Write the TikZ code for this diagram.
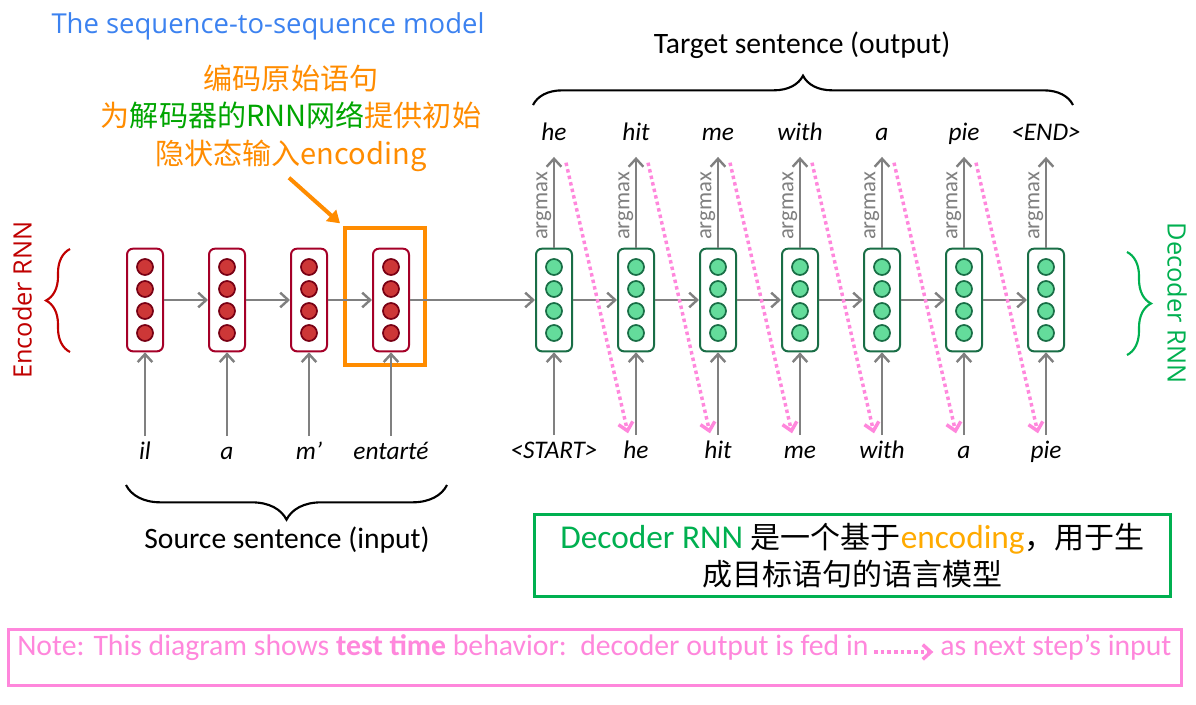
\documentclass[tikz,border=0pt]{standalone}
\usepackage{fontspec}
\setmainfont{Carlito}
\newfontfamily\cjk{Noto Sans CJK SC}
\newfontfamily\yahei{Open Sans}
\usetikzlibrary{arrows.meta, positioning, calc, decorations.pathreplacing}

\definecolor{encred}{RGB}{165,0,40}
\definecolor{encdot}{RGB}{205,55,55}
\definecolor{encdotline}{RGB}{120,0,20}
\definecolor{decgreen}{RGB}{25,110,70}
\definecolor{decdot}{RGB}{100,220,155}
\definecolor{rnngreen}{RGB}{0,176,80}
\definecolor{annogreen}{RGB}{0,165,0}
\definecolor{annoorange}{RGB}{255,140,0}
\definecolor{encorange}{RGB}{255,170,0}
\definecolor{titleblue}{RGB}{60,130,240}
\definecolor{notepink}{RGB}{255,135,220}
\definecolor{arrowgray}{RGB}{128,128,128}
\definecolor{bracered}{RGB}{192,0,0}

\begin{document}
\begin{tikzpicture}[
    x=0.75pt, y=-0.75pt,
    node distance=33pt,
    enccell/.style={draw=encred, line width=1.5pt, rounded corners=4.5pt, fill=white, minimum width=27pt, minimum height=77pt, inner sep=0pt},
    deccell/.style={enccell, draw=decgreen},
    encdotst/.style={circle, draw=encdotline, fill=encdot, line width=1.3pt, minimum size=12pt, inner sep=0pt},
    decdotst/.style={encdotst, draw=decgreen, fill=decdot},
    word/.style={font=\fontsize{19}{22}\selectfont\itshape, text height=0.75em, text depth=0.2em, inner sep=0pt},
    caption/.style={font=\fontsize{22.2}{26}\selectfont},
    sidelabel/.style={font=\yahei\fontsize{19}{22}\selectfont},
    flow/.style={draw=arrowgray, line width=2pt, -{Straight Barb[length=6pt, width=11pt, line width=1.8pt]}},
    upflow/.style={flow, shorten <=10pt},
    argmaxlabel/.style={pos=0.4, anchor=south, rotate=90, inner sep=1pt, text=arrowgray, font=\fontsize{17}{20}\selectfont},
    feed/.style={draw=notepink, line width=2.6pt, dash pattern=on 2.6pt off 2.4pt, -{Straight Barb[length=6pt, width=11pt, line width=2.6pt]}},
    brace/.style={decorate, line width=1.6pt},
    pointer/.style={draw=annoorange, line width=3pt, -{Triangle[length=9pt, width=11pt]}},
    notetext/.style={text=notepink, font=\fontsize{22.3}{26}\selectfont, text height=0.75em, text depth=0.2em, inner sep=0pt}
]

% Fondo
\path[fill=white] (0,0) rectangle (1196,704);

% Titulo y anotacion
\node[font=\yahei\fontsize{20.6}{24}\selectfont, text=titleblue] (title) at (268,26) {The sequence-to-sequence model};
\node[font=\cjk\fontsize{21.8}{28}\selectfont, text=annoorange, align=center] (anno) at (291,118) {编码原始语句\\为{\color{annogreen}解码器的RNN网络}提供初始\\隐状态输入encoding};

% Celdas
\node[enccell] (enc1) at (145,300) {};
\node[enccell, right=of enc1] (enc2) {};
\node[enccell, right=of enc2] (enc3) {};
\node[enccell, right=of enc3] (enc4) {};
\node[deccell] (dec1) at (554,300) {};
\node[deccell, right=of dec1] (dec2) {};
\node[deccell, right=of dec2] (dec3) {};
\node[deccell, right=of dec3] (dec4) {};
\node[deccell, right=of dec4] (dec5) {};
\node[deccell, right=of dec5] (dec6) {};
\node[deccell, right=of dec6] (dec7) {};
\foreach \c in {enc1,enc2,enc3,enc4}
    \foreach \d in {-24.75,-8.25,8.25,24.75}
        \node[encdotst] at ([yshift=\d pt]\c.center) {};
\foreach \c in {dec1,dec2,dec3,dec4,dec5,dec6,dec7}
    \foreach \d in {-24.75,-8.25,8.25,24.75}
        \node[decdotst] at ([yshift=\d pt]\c.center) {};
\node[draw=annoorange, line width=3pt, minimum width=60pt, minimum height=102.75pt] (focus) at (385,296.5) {};

% Palabras
\node[word] (src1) at (enc1 |- 0,456) {il};
\node[word] (src2) at (enc2 |- 0,456) {a};
\node[word] (src3) at (enc3 |- 0,456) {m’};
\node[word] (src4) at (enc4 |- 0,456) {entarté};
\node[word] (in1) at (dec1 |- 0,455) {<START>};
\node[word] (in2) at (dec2 |- 0,455) {he};
\node[word] (in3) at (dec3 |- 0,455) {hit};
\node[word] (in4) at (dec4 |- 0,455) {me};
\node[word] (in5) at (dec5 |- 0,455) {with};
\node[word] (in6) at (dec6 |- 0,455) {a};
\node[word] (in7) at (dec7 |- 0,455) {pie};
\node[word] (out1) at (dec1 |- 0,137) {he};
\node[word] (out2) at (dec2 |- 0,137) {hit};
\node[word] (out3) at (dec3 |- 0,137) {me};
\node[word] (out4) at (dec4 |- 0,137) {with};
\node[word] (out5) at (dec5 |- 0,137) {a};
\node[word] (out6) at (dec6 |- 0,137) {pie};
\node[word] (out7) at (dec7 |- 0,137) {<END>};

% Etiquetas
\node[caption] (target) at (802,45) {Target sentence (output)};
\node[caption] (source) at (287,540) {Source sentence (input)};
\node[sidelabel, rotate=90, text=bracered] (enclabel) at (22,300) {Encoder RNN};
\node[sidelabel, rotate=-90, text=rnngreen] (declabel) at (1177,303) {Decoder RNN};

% Llaves
\draw[brace, draw=bracered, decoration={brace, amplitude=18pt}] (70,352) -- (70,249);
\draw[brace, draw=rnngreen, decoration={brace, amplitude=18pt}] (1127,252) -- (1127,355);
\draw[brace, decoration={brace, amplitude=22pt}] (533,105) -- (1073,105);
\draw[brace, decoration={brace, amplitude=26pt}] (447,485) -- (126,485);

% Flechas
\draw[flow] (enc1) -- (enc2);
\draw[flow] (enc2) -- (enc3);
\draw[flow] (enc3) -- (enc4);
\draw[flow] (enc4) -- (dec1);
\foreach \i/\j in {1/2,2/3,3/4,4/5,5/6,6/7}
    \draw[flow] (dec\i) -- (dec\j);
\foreach \i in {1,2,3,4}
    \draw[upflow] (src\i) -- (enc\i);
\foreach \i in {1,...,7}
    \draw[upflow] (in\i) -- (dec\i);
\foreach \i in {1,...,7}
    \draw[flow, shorten >=10pt] (dec\i) -- node[argmaxlabel] {argmax} (out\i);
\foreach \i/\j in {1/2,2/3,3/4,4/5,5/6,6/7}
    \draw[feed] ($(dec\i.north)+(12,-85)$) -- ($(dec\j.south)+(-8,81)$);
\draw[pointer, shorten <=2pt, shorten >=3pt] ([xshift=-3pt]anno.south) -- (focus.north west);

% Cuadros de notas
\node[draw=rnngreen, line width=2.25pt, minimum width=477pt, minimum height=61.5pt, align=center, font=\fontsize{25}{28}\selectfont] (lmnote) at (852.5,555.5)
    {{\color{rnngreen}Decoder RNN} {\cjk\fontsize{22.5}{28}\selectfont 是一个基于}{\color{encorange}encoding}{\cjk\fontsize{22.5}{28}\selectfont ，用于生}\\{\cjk\fontsize{22.5}{28}\selectfont 成目标语句的语言模型}};
\node[draw=notepink, line width=2.25pt, minimum width=880pt, minimum height=42pt] (notebox) at (595,657.5) {};
\node[notetext, anchor=west] (note1) at (17,652) {Note: This diagram shows \textbf{test time} behavior:\ \ decoder output is fed in};
\node[notetext, anchor=west] (note2) at (940,652) {as next step’s input};
\draw[feed, shorten <=4pt, shorten >=5pt] (note1) -- (note2);

\end{tikzpicture}
\end{document}
